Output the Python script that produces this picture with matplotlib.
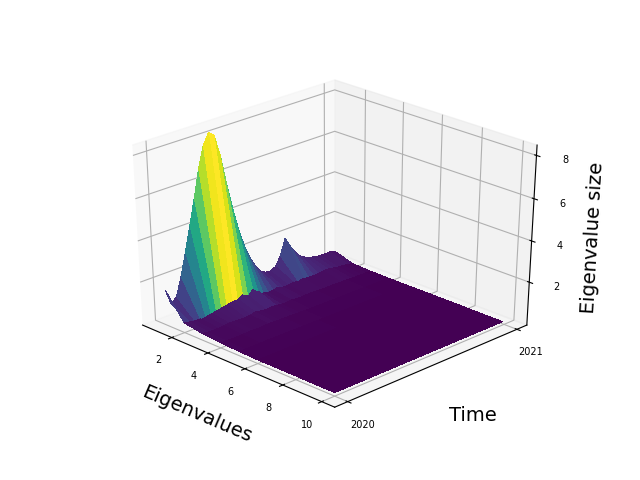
import numpy as np
import matplotlib
matplotlib.use("Agg")
import matplotlib.pyplot as plt
from mpl_toolkits.mplot3d import Axes3D

# decimal years, one row per time step
time_steps = [2020.00, 2020.03, 2020.06, 2020.09, 2020.12, 2020.15, 2020.18, 2020.21, 2020.24,
              2020.27, 2020.30, 2020.33, 2020.36, 2020.39, 2020.42, 2020.45, 2020.48, 2020.51,
              2020.54, 2020.57, 2020.60, 2020.63, 2020.66, 2020.69, 2020.72, 2020.75, 2020.78,
              2020.81, 2020.84, 2020.87, 2020.90, 2020.93, 2020.96, 2020.99]
eigen_idx = [1, 2, 3, 4, 5, 6, 7, 8, 9, 10]

# eigenvalues, largest first
e1 = [1.6, 0.8, 1.1, 2.0, 3.1, 4.3, 5.5, 6.8, 7.8, 8.3, 8.1, 7.1, 5.7, 4.4, 3.3, 2.4, 1.7, 1.2,
      0.8, 0.65, 0.6, 0.75, 1.2, 2.0, 1.5, 1.1, 0.8, 0.65, 0.55, 0.5, 0.45, 0.45, 0.45, 0.4]
e2 = [0.35, 0.3, 0.25, 0.25, 0.3, 0.35, 0.4, 0.45, 0.5, 0.55, 0.55, 0.7, 0.55, 0.8, 0.55, 0.35, 0.25, 0.3,
      0.35, 0.25, 0.25, 0.3, 0.25, 0.3, 0.25, 0.25, 0.25, 0.3, 0.3, 0.25, 0.2, 0.2, 0.15, 0.1]
e3 = [0.2, 0.17, 0.15, 0.15, 0.17, 0.2, 0.2, 0.17, 0.17, 0.2, 0.25, 0.2, 0.17, 0.2, 0.18, 0.13, 0.13, 0.15,
      0.12, 0.12, 0.13, 0.14, 0.12, 0.1, 0.1, 0.11, 0.1, 0.09, 0.09, 0.08, 0.07, 0.07, 0.06, 0.06]
e4 = [0.12, 0.11, 0.1, 0.1, 0.11, 0.12, 0.12, 0.11, 0.12, 0.13, 0.13, 0.12, 0.11, 0.11, 0.1, 0.09, 0.09, 0.08,
      0.08, 0.08, 0.07, 0.07, 0.07, 0.07, 0.07, 0.07, 0.07, 0.07, 0.06, 0.06, 0.06, 0.06, 0.05, 0.05]
e5 = [0.08, 0.07, 0.07, 0.07, 0.07, 0.08, 0.08, 0.08, 0.08, 0.08, 0.08, 0.07, 0.07, 0.07, 0.07, 0.06, 0.06, 0.06,
      0.06, 0.06, 0.06, 0.06, 0.06, 0.06, 0.06, 0.06, 0.05, 0.05, 0.05, 0.05, 0.05, 0.05, 0.05, 0.05]
e6 = [0.05] * 34
e7 = [0.05] * 34
e8 = [0.05] * 34
e9 = [0.04] * 34
e10 = [0.04] * 34

X, Y = np.meshgrid(eigen_idx, time_steps)
Z = np.array([e1, e2, e3, e4, e5, e6, e7, e8, e9, e10]).T

fig = plt.figure()
ax = fig.add_subplot(111, projection="3d")
# let the 3d box fill the axes rectangle instead of staying square
ax.apply_aspect = lambda position=None: None
ax.view_init(elev=30, azim=-45)
ax.set_box_aspect((1, 1, 1), zoom=0.945)
ax.plot_surface(X, Y, Z, cmap="viridis", linewidth=0, antialiased=False,
                rcount=60, ccount=60)

ax.set_xticks([2, 4, 6, 8, 10])
ax.set_yticks([2020, 2021])
ax.set_zticks([2, 4, 6, 8])
ax.tick_params(labelsize=7)

ax.set_xlabel("Eigenvalues", fontsize=14, labelpad=10)
ax.yaxis.set_rotate_label(False)
ax.set_ylabel("Time", fontsize=14, labelpad=11, rotation=0)
ax.set_zlabel("Eigenvalue size", fontsize=14, labelpad=4)

plt.savefig("out.png", dpi=100)
